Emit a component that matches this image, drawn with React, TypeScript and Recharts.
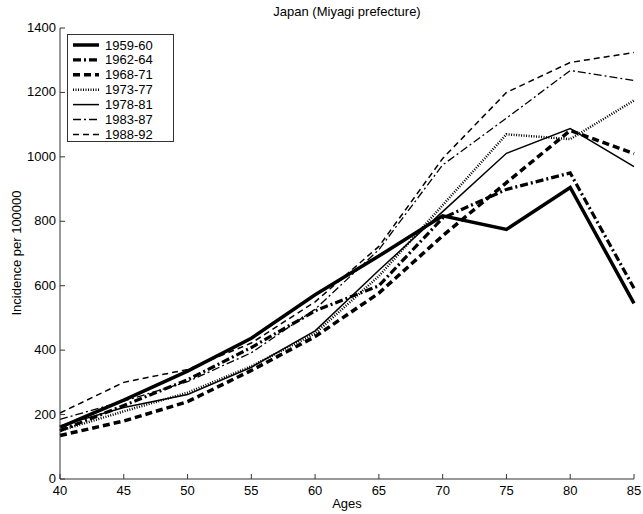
import React from "react";
import { LineChart, Line, XAxis, YAxis } from "recharts";

const ages = [40, 45, 50, 55, 60, 65, 70, 75, 80, 85];
const p1959 = [160, 245, 335, 437, 572, 692, 817, 775, 905, 545];
const p1962 = [150, 228, 308, 408, 522, 600, 810, 899, 950, 592];
const p1968 = [135, 180, 240, 337, 442, 577, 755, 920, 1082, 1010];
const p1973 = [150, 210, 268, 350, 452, 630, 850, 1070, 1055, 1175];
const p1978 = [165, 222, 262, 347, 460, 648, 830, 1011, 1088, 970];
const p1983 = [185, 242, 302, 392, 527, 712, 975, 1120, 1268, 1237];
const p1988 = [205, 300, 340, 422, 550, 722, 995, 1200, 1293, 1324];
const xTicks = [40, 45, 50, 55, 60, 65, 70, 75, 80, 85];
const yTicks = [0, 200, 400, 600, 800, 1000, 1200, 1400];

const series = [
  { key: "1959-60", values: p1959, width: 3.5, dash: undefined as string | undefined },
  { key: "1962-64", values: p1962, width: 3.2, dash: "8 3 2 3" },
  { key: "1968-71", values: p1968, width: 3.5, dash: "7 4" },
  { key: "1973-77", values: p1973, width: 2.5, dash: "1 1.5" },
  { key: "1978-81", values: p1978, width: 1.5, dash: undefined },
  { key: "1983-87", values: p1983, width: 1.3, dash: "8 3 2 3" },
  { key: "1988-92", values: p1988, width: 1.5, dash: "6 4" },
];

const data = ages.map((a, i) => {
  const row: Record<string, number> = { age: a };
  series.forEach((s) => {
    row[s.key] = s.values[i];
  });
  return row;
});

const FONT = "'Liberation Sans', Arial, sans-serif";
const AX = "#333";
const FS = 13;

const BottomTick = (props: any) => {
  const { x, y, payload } = props;
  return (
    <g>
      <line x1={x} x2={x} y1={y} y2={y - 5} stroke={AX} />
      <text x={x} y={y + 16} textAnchor="middle" fontSize={FS} fontFamily={FONT} fill="#000">
        {payload.value}
      </text>
    </g>
  );
};
const TopTick = (props: any) => {
  const { x, y } = props;
  return <line x1={x} x2={x} y1={y} y2={y + 5} stroke={AX} />;
};
const LeftTick = (props: any) => {
  const { x, y, payload } = props;
  return (
    <g>
      <line x1={x} x2={x + 5} y1={y} y2={y} stroke={AX} />
      <text x={x - 4} y={y + 4} textAnchor="end" fontSize={FS} fontFamily={FONT} fill="#000">
        {payload.value}
      </text>
    </g>
  );
};
const RightTick = (props: any) => {
  const { x, y } = props;
  return <line x1={x} x2={x - 5} y1={y} y2={y} stroke={AX} />;
};

export default function App() {
  return (
    <div style={{ position: "absolute", left: 0, top: 0, width: 643, height: 514, background: "#fff" }}>
      <LineChart
        width={643}
        height={514}
        data={data}
        margin={{ top: 28, right: 9, bottom: 5, left: 10 }}
        style={{ fontFamily: FONT }}
      >
        <XAxis
          dataKey="age"
          type="number"
          domain={[40, 85]}
          ticks={xTicks}
          height={30}
          tickSize={0}
          tickMargin={0}
          tickLine={false}
          axisLine={{ stroke: AX }}
          tick={<BottomTick />}
          interval={0}
        />
        <XAxis
          xAxisId="top"
          orientation="top"
          dataKey="age"
          type="number"
          domain={[40, 85]}
          ticks={xTicks}
          height={0}
          tickSize={0}
          tickMargin={0}
          tickLine={false}
          axisLine={{ stroke: AX }}
          tick={<TopTick />}
          interval={0}
        />
        <YAxis
          type="number"
          domain={[0, 1400]}
          ticks={yTicks}
          width={50}
          tickSize={0}
          tickMargin={0}
          tickLine={false}
          axisLine={{ stroke: AX }}
          tick={<LeftTick />}
          interval={0}
        />
        <YAxis
          yAxisId="right"
          orientation="right"
          type="number"
          domain={[0, 1400]}
          ticks={yTicks}
          width={0}
          tickSize={0}
          tickMargin={0}
          tickLine={false}
          axisLine={{ stroke: AX }}
          tick={<RightTick />}
          interval={0}
        />
        {series.map((s) => (
          <Line
            key={s.key}
            dataKey={s.key}
            stroke="#000"
            strokeWidth={s.width}
            strokeDasharray={s.dash}
            dot={false}
            activeDot={false}
            isAnimationActive={false}
            strokeLinejoin="miter"
          />
        ))}
      </LineChart>
      <svg width={643} height={514} style={{ position: "absolute", left: 0, top: 0, pointerEvents: "none" }}>
        <text x={347} y={16} textAnchor="middle" fontSize={FS} fontFamily={FONT}>
          Japan (Miyagi prefecture)
        </text>
        <text x={347} y={508} textAnchor="middle" fontSize={FS} fontFamily={FONT}>
          Ages
        </text>
        <text
          x={0}
          y={0}
          transform="translate(21,253) rotate(-90)"
          textAnchor="middle"
          fontSize={FS}
          fontFamily={FONT}
        >
          Incidence per 100000
        </text>
        <rect x={67.5} y={34.5} width={106} height={107} fill="#fff" stroke={AX} />
        {series.map((s, i) => {
          const yy = 45 + i * 14.9;
          return (
            <g key={s.key}>
              <line
                x1={73}
                x2={99}
                y1={yy}
                y2={yy}
                stroke="#000"
                strokeWidth={s.width}
                strokeDasharray={s.dash}
              />
              <text x={105} y={yy + 4.5} fontSize={FS} fontFamily={FONT}>
                {s.key}
              </text>
            </g>
          );
        })}
      </svg>
    </div>
  );
}
